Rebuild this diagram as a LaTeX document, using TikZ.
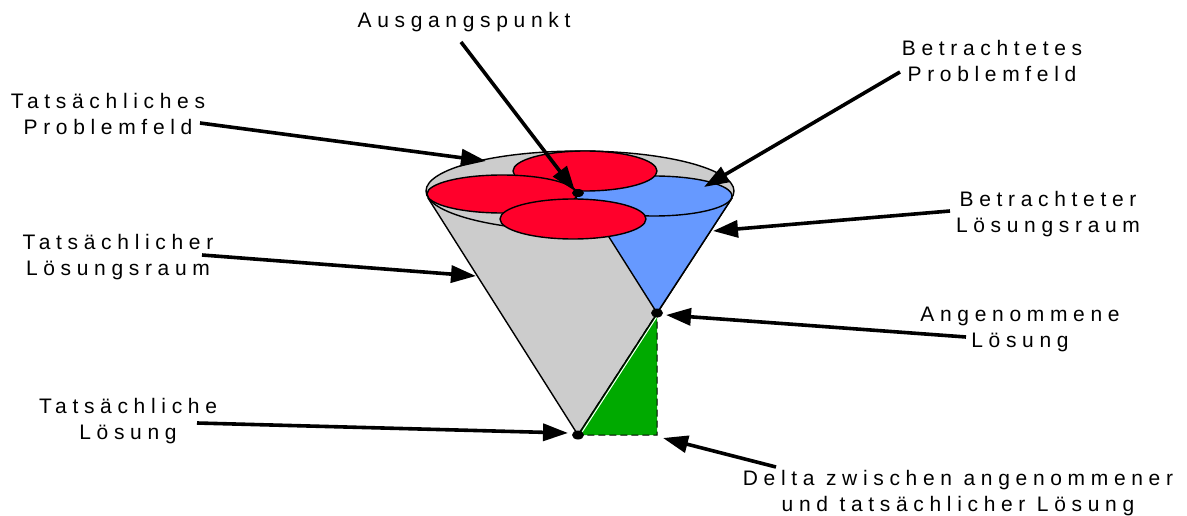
\documentclass[tikz,border=0pt]{standalone}
\usepackage{fontspec}
\newfontfamily\labfont[LetterSpace=27]{Liberation Sans}
\usetikzlibrary{arrows.meta}
\definecolor{conered}{RGB}{255,0,43}
\definecolor{coneblue}{RGB}{102,153,255}
\definecolor{conegray}{RGB}{204,204,204}
\definecolor{conegreen}{RGB}{0,170,0}
\begin{document}
\begin{tikzpicture}[x=1pt,y=-1pt,
  lab/.style={font=\labfont\fontsize{21}{26}\selectfont, align=center, inner sep=0pt},
  ptr/.style={line width=3.6pt, -{Triangle[length=25pt,width=17pt]}},
  edge/.style={draw=black, line width=1.4pt, line join=round},
  blob/.style={fill=black}]
\useasboundingbox (0,0) rectangle (1187,516);
\fill[white] (0,0) rectangle (1187,516);

% gray cone
\coordinate (gL) at (428,198);
\coordinate (gR) at (732,198);
\coordinate (gA) at (578,435);
\coordinate (bA) at (657,313);
\coordinate (bL) at (590,207);
\coordinate (gC) at (657,435);
\fill[conegray] (gL) -- (gA) -- (gR) -- cycle;
\filldraw[fill=conegray, edge] (580,191) ellipse [x radius=154pt, y radius=40pt];

% green delta
\filldraw[fill=conegreen, draw=black, dash pattern=on 7pt off 4pt, line width=1pt] (gA) -- (bA) -- (gC) -- cycle;
\draw[white, line width=1pt] ([xshift=2.2pt]gA) -- ([xshift=2.2pt]bA);
\draw[edge] (gL) -- (gA) -- (gR);

% blue cone
\fill[coneblue] (bL) -- (bA) -- (gR) -- cycle;
\filldraw[fill=coneblue, edge] (654,196) ellipse [x radius=78pt, y radius=20pt];
\draw[edge] (bL) -- (bA) -- (gR);

% red petals
\filldraw[fill=conered, edge] (585,171) ellipse [x radius=72pt, y radius=20pt];
\filldraw[fill=conered, edge] (502,194) ellipse [x radius=75pt, y radius=19pt];
\filldraw[fill=conered, edge] (573,219) ellipse [x radius=73pt, y radius=20pt];

% dots
\coordinate (pC) at (578,193);
\fill[blob] (pC) ellipse [x radius=6pt, y radius=4pt];
\fill[blob] (gA) ellipse [x radius=6pt, y radius=4.5pt];
\fill[blob] (bA) ellipse [x radius=6pt, y radius=4.5pt];

% labels
\node[lab] (tAus) at (464,22) {Ausgangspunkt};
\node[lab] (tTPF) at (108,114) {Tatsächliches\\Problemfeld};
\node[lab] (tBPF) at (992,61) {Betrachtetes\\Problemfeld};
\node[lab] (tBLR) at (1048,214) {Betrachteter\\Lösungsraum};
\node[lab] (tAL) at (1020,329) {Angenommene\\Lösung};
\node[lab] (tTLR) at (118,257) {Tatsächlicher\\Lösungsraum};
\node[lab] (tTL) at (128,421) {Tatsächliche\\Lösung};
\node[lab] (tDelta) at (958,493) {Delta zwischen angenommener\\und tatsächlicher Lösung};

% arrow anchors
\coordinate (sAus) at (461,42);   \coordinate (eAus) at (575,191);
\coordinate (sTPF) at (200,123);  \coordinate (eTPF) at (486,161);
\coordinate (sBPF) at (900,72);   \coordinate (eBPF) at (704,187);
\coordinate (sBLR) at (950,211);  \coordinate (eBLR) at (713,231);
\coordinate (sAL) at (966,337);   \coordinate (eAL) at (666,315);
\coordinate (sTLR) at (202,255);  \coordinate (eTLR) at (476,276);
\coordinate (sTL) at (197,423);   \coordinate (eTL) at (568,433);
\coordinate (sD) at (776,467);    \coordinate (eD) at (663,438);

\draw[ptr] (sAus) -- (eAus);
\draw[ptr] (sTPF) -- (eTPF);
\draw[ptr] (sBPF) -- (eBPF);
\draw[ptr] (sBLR) -- (eBLR);
\draw[ptr] (sAL) -- (eAL);
\draw[ptr] (sTLR) -- (eTLR);
\draw[ptr] (sTL) -- (eTL);
\draw[ptr] (sD) -- (eD);
\end{tikzpicture}
\end{document}
